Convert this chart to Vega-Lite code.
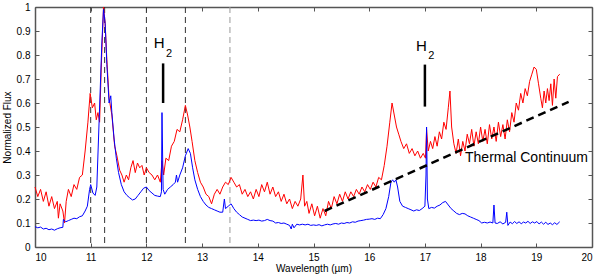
{
  "$schema": "https://vega.github.io/schema/vega-lite/v6.json",
  "width": 557,
  "height": 240,
  "autosize": {"type": "none"},
  "padding": {"left": 35, "top": 7, "right": 8, "bottom": 29},
  "background": "white",
  "config": {
    "view": {"stroke": null},
    "font": "Liberation Sans",
    "axis": {
      "domainColor": "#555",
      "domainWidth": 1.5,
      "tickColor": "#555",
      "tickSize": -4,
      "tickWidth": 1,
      "grid": false,
      "labelFont": "Liberation Sans",
      "labelFontSize": 10,
      "labelColor": "#000",
      "titleFont": "Liberation Sans",
      "titleFontSize": 10,
      "titleFontWeight": "normal",
      "titleColor": "#000"
    }
  },
  "datasets": {
    "red": [
      {"wl":10.00,"flux":0.25},{"wl":10.05,"flux":0.21},{"wl":10.10,"flux":0.24},{"wl":10.15,"flux":0.19},{"wl":10.20,"flux":0.23},{"wl":10.25,"flux":0.17},{"wl":10.30,"flux":0.21},{"wl":10.35,"flux":0.16},{"wl":10.40,"flux":0.19},{"wl":10.42,"flux":0.12},{"wl":10.45,"flux":0.18},{"wl":10.50,"flux":0.15},{"wl":10.53,"flux":0.10},{"wl":10.56,"flux":0.19},{"wl":10.60,"flux":0.24},{"wl":10.65,"flux":0.21},{"wl":10.70,"flux":0.26},{"wl":10.75,"flux":0.24},{"wl":10.80,"flux":0.29},{"wl":10.85,"flux":0.30},{"wl":10.90,"flux":0.40},{"wl":10.95,"flux":0.52},{"wl":10.99,"flux":0.64},{"wl":11.03,"flux":0.58},{"wl":11.07,"flux":0.60},{"wl":11.10,"flux":0.53},{"wl":11.13,"flux":0.56},{"wl":11.16,"flux":0.52},{"wl":11.19,"flux":0.75},{"wl":11.23,"flux":1.0},{"wl":11.26,"flux":0.93},{"wl":11.29,"flux":0.78},{"wl":11.33,"flux":0.62},{"wl":11.38,"flux":0.55},{"wl":11.43,"flux":0.42},{"wl":11.47,"flux":0.38},{"wl":11.52,"flux":0.32},{"wl":11.56,"flux":0.30},{"wl":11.60,"flux":0.27},{"wl":11.64,"flux":0.30},{"wl":11.68,"flux":0.28},{"wl":11.72,"flux":0.33},{"wl":11.76,"flux":0.36},{"wl":11.80,"flux":0.31},{"wl":11.84,"flux":0.35},{"wl":11.88,"flux":0.33},{"wl":11.92,"flux":0.34},{"wl":11.96,"flux":0.30},{"wl":12.00,"flux":0.33},{"wl":12.05,"flux":0.31},{"wl":12.10,"flux":0.30},{"wl":12.15,"flux":0.28},{"wl":12.20,"flux":0.30},{"wl":12.25,"flux":0.27},{"wl":12.28,"flux":0.36},{"wl":12.31,"flux":0.30},{"wl":12.35,"flux":0.37},{"wl":12.40,"flux":0.36},{"wl":12.45,"flux":0.42},{"wl":12.50,"flux":0.44},{"wl":12.55,"flux":0.49},{"wl":12.60,"flux":0.48},{"wl":12.65,"flux":0.53},{"wl":12.70,"flux":0.59},{"wl":12.74,"flux":0.55},{"wl":12.78,"flux":0.50},{"wl":12.82,"flux":0.44},{"wl":12.87,"flux":0.36},{"wl":12.92,"flux":0.31},{"wl":12.97,"flux":0.27},{"wl":13.02,"flux":0.25},{"wl":13.07,"flux":0.22},{"wl":13.12,"flux":0.21},{"wl":13.17,"flux":0.18},{"wl":13.22,"flux":0.22},{"wl":13.27,"flux":0.24},{"wl":13.32,"flux":0.22},{"wl":13.37,"flux":0.25},{"wl":13.42,"flux":0.27},{"wl":13.47,"flux":0.26},{"wl":13.52,"flux":0.29},{"wl":13.57,"flux":0.27},{"wl":13.62,"flux":0.25},{"wl":13.67,"flux":0.26},{"wl":13.72,"flux":0.22},{"wl":13.77,"flux":0.24},{"wl":13.82,"flux":0.21},{"wl":13.87,"flux":0.23},{"wl":13.92,"flux":0.20},{"wl":13.97,"flux":0.24},{"wl":14.02,"flux":0.21},{"wl":14.07,"flux":0.26},{"wl":14.12,"flux":0.23},{"wl":14.17,"flux":0.27},{"wl":14.22,"flux":0.22},{"wl":14.27,"flux":0.25},{"wl":14.32,"flux":0.21},{"wl":14.37,"flux":0.23},{"wl":14.42,"flux":0.19},{"wl":14.47,"flux":0.22},{"wl":14.52,"flux":0.18},{"wl":14.57,"flux":0.20},{"wl":14.62,"flux":0.16},{"wl":14.67,"flux":0.19},{"wl":14.72,"flux":0.17},{"wl":14.77,"flux":0.20},{"wl":14.81,"flux":0.30},{"wl":14.84,"flux":0.17},{"wl":14.88,"flux":0.19},{"wl":14.92,"flux":0.14},{"wl":14.97,"flux":0.18},{"wl":15.02,"flux":0.13},{"wl":15.07,"flux":0.17},{"wl":15.12,"flux":0.12},{"wl":15.17,"flux":0.16},{"wl":15.22,"flux":0.13},{"wl":15.27,"flux":0.19},{"wl":15.32,"flux":0.16},{"wl":15.37,"flux":0.21},{"wl":15.42,"flux":0.18},{"wl":15.47,"flux":0.22},{"wl":15.52,"flux":0.19},{"wl":15.57,"flux":0.23},{"wl":15.62,"flux":0.20},{"wl":15.67,"flux":0.23},{"wl":15.72,"flux":0.21},{"wl":15.77,"flux":0.24},{"wl":15.82,"flux":0.22},{"wl":15.87,"flux":0.25},{"wl":15.92,"flux":0.23},{"wl":15.97,"flux":0.26},{"wl":16.02,"flux":0.24},{"wl":16.07,"flux":0.27},{"wl":16.12,"flux":0.25},{"wl":16.17,"flux":0.29},{"wl":16.22,"flux":0.28},{"wl":16.27,"flux":0.34},{"wl":16.32,"flux":0.42},{"wl":16.37,"flux":0.52},{"wl":16.41,"flux":0.60},{"wl":16.45,"flux":0.55},{"wl":16.49,"flux":0.50},{"wl":16.53,"flux":0.47},{"wl":16.57,"flux":0.44},{"wl":16.62,"flux":0.41},{"wl":16.67,"flux":0.43},{"wl":16.72,"flux":0.39},{"wl":16.77,"flux":0.41},{"wl":16.82,"flux":0.38},{"wl":16.87,"flux":0.40},{"wl":16.92,"flux":0.37},{"wl":16.97,"flux":0.39},{"wl":17.01,"flux":0.37},{"wl":17.03,"flux":0.49},{"wl":17.06,"flux":0.40},{"wl":17.10,"flux":0.44},{"wl":17.14,"flux":0.41},{"wl":17.18,"flux":0.46},{"wl":17.22,"flux":0.42},{"wl":17.26,"flux":0.48},{"wl":17.30,"flux":0.45},{"wl":17.34,"flux":0.52},{"wl":17.38,"flux":0.49},{"wl":17.42,"flux":0.58},{"wl":17.45,"flux":0.65},{"wl":17.48,"flux":0.50},{"wl":17.52,"flux":0.43},{"wl":17.56,"flux":0.39},{"wl":17.60,"flux":0.45},{"wl":17.64,"flux":0.38},{"wl":17.68,"flux":0.44},{"wl":17.72,"flux":0.40},{"wl":17.76,"flux":0.47},{"wl":17.80,"flux":0.43},{"wl":17.84,"flux":0.49},{"wl":17.88,"flux":0.42},{"wl":17.92,"flux":0.48},{"wl":17.96,"flux":0.43},{"wl":18.00,"flux":0.50},{"wl":18.04,"flux":0.44},{"wl":18.08,"flux":0.49},{"wl":18.12,"flux":0.43},{"wl":18.16,"flux":0.51},{"wl":18.20,"flux":0.45},{"wl":18.24,"flux":0.50},{"wl":18.28,"flux":0.44},{"wl":18.32,"flux":0.52},{"wl":18.36,"flux":0.46},{"wl":18.40,"flux":0.51},{"wl":18.44,"flux":0.45},{"wl":18.48,"flux":0.53},{"wl":18.52,"flux":0.48},{"wl":18.56,"flux":0.56},{"wl":18.60,"flux":0.52},{"wl":18.64,"flux":0.60},{"wl":18.68,"flux":0.57},{"wl":18.72,"flux":0.64},{"wl":18.76,"flux":0.60},{"wl":18.80,"flux":0.66},{"wl":18.84,"flux":0.63},{"wl":18.88,"flux":0.69},{"wl":18.92,"flux":0.72},{"wl":18.96,"flux":0.75},{"wl":19.00,"flux":0.74},{"wl":19.04,"flux":0.68},{"wl":19.08,"flux":0.62},{"wl":19.11,"flux":0.58},{"wl":19.14,"flux":0.65},{"wl":19.17,"flux":0.60},{"wl":19.20,"flux":0.66},{"wl":19.23,"flux":0.61},{"wl":19.26,"flux":0.68},{"wl":19.29,"flux":0.59},{"wl":19.32,"flux":0.70},{"wl":19.35,"flux":0.62},{"wl":19.38,"flux":0.71},{"wl":19.42,"flux":0.72}
    ],
    "blue": [
      {"wl":10.00,"flux":0.085},{"wl":10.05,"flux":0.080},{"wl":10.10,"flux":0.083},{"wl":10.15,"flux":0.075},{"wl":10.20,"flux":0.078},{"wl":10.25,"flux":0.072},{"wl":10.30,"flux":0.075},{"wl":10.35,"flux":0.070},{"wl":10.40,"flux":0.076},{"wl":10.45,"flux":0.080},{"wl":10.50,"flux":0.082},{"wl":10.51,"flux":0.115},{"wl":10.55,"flux":0.105},{"wl":10.60,"flux":0.110},{"wl":10.65,"flux":0.115},{"wl":10.70,"flux":0.120},{"wl":10.75,"flux":0.118},{"wl":10.80,"flux":0.126},{"wl":10.85,"flux":0.130},{"wl":10.90,"flux":0.150},{"wl":10.94,"flux":0.170},{"wl":10.98,"flux":0.240},{"wl":11.00,"flux":0.260},{"wl":11.04,"flux":0.225},{"wl":11.08,"flux":0.215},{"wl":11.11,"flux":0.250},{"wl":11.14,"flux":0.450},{"wl":11.17,"flux":0.650},{"wl":11.20,"flux":0.850},{"wl":11.23,"flux":0.990},{"wl":11.26,"flux":0.930},{"wl":11.29,"flux":0.760},{"wl":11.33,"flux":0.600},{"wl":11.36,"flux":0.630},{"wl":11.38,"flux":0.560},{"wl":11.42,"flux":0.450},{"wl":11.46,"flux":0.370},{"wl":11.50,"flux":0.310},{"wl":11.55,"flux":0.260},{"wl":11.60,"flux":0.230},{"wl":11.65,"flux":0.215},{"wl":11.70,"flux":0.205},{"wl":11.75,"flux":0.196},{"wl":11.80,"flux":0.200},{"wl":11.85,"flux":0.215},{"wl":11.90,"flux":0.230},{"wl":11.95,"flux":0.245},{"wl":12.00,"flux":0.250},{"wl":12.05,"flux":0.235},{"wl":12.10,"flux":0.225},{"wl":12.15,"flux":0.215},{"wl":12.20,"flux":0.212},{"wl":12.25,"flux":0.210},{"wl":12.27,"flux":0.230},{"wl":12.28,"flux":0.560},{"wl":12.30,"flux":0.240},{"wl":12.33,"flux":0.220},{"wl":12.38,"flux":0.240},{"wl":12.43,"flux":0.250},{"wl":12.48,"flux":0.260},{"wl":12.52,"flux":0.270},{"wl":12.54,"flux":0.300},{"wl":12.56,"flux":0.270},{"wl":12.60,"flux":0.300},{"wl":12.65,"flux":0.330},{"wl":12.70,"flux":0.380},{"wl":12.75,"flux":0.410},{"wl":12.79,"flux":0.390},{"wl":12.83,"flux":0.330},{"wl":12.87,"flux":0.280},{"wl":12.92,"flux":0.240},{"wl":12.97,"flux":0.210},{"wl":13.02,"flux":0.190},{"wl":13.07,"flux":0.175},{"wl":13.12,"flux":0.165},{"wl":13.17,"flux":0.160},{"wl":13.22,"flux":0.155},{"wl":13.27,"flux":0.150},{"wl":13.32,"flux":0.145},{"wl":13.37,"flux":0.145},{"wl":13.40,"flux":0.200},{"wl":13.42,"flux":0.160},{"wl":13.47,"flux":0.170},{"wl":13.52,"flux":0.180},{"wl":13.57,"flux":0.160},{"wl":13.62,"flux":0.145},{"wl":13.67,"flux":0.135},{"wl":13.72,"flux":0.125},{"wl":13.77,"flux":0.120},{"wl":13.82,"flux":0.115},{"wl":13.87,"flux":0.110},{"wl":13.92,"flux":0.112},{"wl":13.97,"flux":0.110},{"wl":14.02,"flux":0.112},{"wl":14.07,"flux":0.108},{"wl":14.12,"flux":0.110},{"wl":14.17,"flux":0.115},{"wl":14.22,"flux":0.110},{"wl":14.27,"flux":0.108},{"wl":14.32,"flux":0.100},{"wl":14.37,"flux":0.102},{"wl":14.42,"flux":0.098},{"wl":14.47,"flux":0.100},{"wl":14.52,"flux":0.095},{"wl":14.57,"flux":0.090},{"wl":14.60,"flux":0.075},{"wl":14.62,"flux":0.095},{"wl":14.65,"flux":0.080},{"wl":14.70,"flux":0.095},{"wl":14.75,"flux":0.092},{"wl":14.80,"flux":0.095},{"wl":14.85,"flux":0.092},{"wl":14.90,"flux":0.095},{"wl":14.95,"flux":0.090},{"wl":15.00,"flux":0.092},{"wl":15.05,"flux":0.090},{"wl":15.10,"flux":0.093},{"wl":15.15,"flux":0.088},{"wl":15.20,"flux":0.092},{"wl":15.25,"flux":0.095},{"wl":15.30,"flux":0.092},{"wl":15.35,"flux":0.096},{"wl":15.40,"flux":0.098},{"wl":15.45,"flux":0.095},{"wl":15.50,"flux":0.100},{"wl":15.55,"flux":0.098},{"wl":15.60,"flux":0.102},{"wl":15.65,"flux":0.100},{"wl":15.70,"flux":0.105},{"wl":15.75,"flux":0.103},{"wl":15.80,"flux":0.108},{"wl":15.85,"flux":0.110},{"wl":15.90,"flux":0.112},{"wl":15.95,"flux":0.115},{"wl":16.00,"flux":0.116},{"wl":16.05,"flux":0.118},{"wl":16.10,"flux":0.115},{"wl":16.15,"flux":0.120},{"wl":16.20,"flux":0.118},{"wl":16.25,"flux":0.135},{"wl":16.30,"flux":0.160},{"wl":16.35,"flux":0.210},{"wl":16.39,"flux":0.270},{"wl":16.42,"flux":0.280},{"wl":16.45,"flux":0.270},{"wl":16.48,"flux":0.280},{"wl":16.51,"flux":0.250},{"wl":16.55,"flux":0.190},{"wl":16.60,"flux":0.170},{"wl":16.65,"flux":0.165},{"wl":16.70,"flux":0.160},{"wl":16.75,"flux":0.155},{"wl":16.80,"flux":0.150},{"wl":16.85,"flux":0.155},{"wl":16.90,"flux":0.152},{"wl":16.95,"flux":0.160},{"wl":17.00,"flux":0.170},{"wl":17.02,"flux":0.300},{"wl":17.03,"flux":0.500},{"wl":17.045,"flux":0.200},{"wl":17.07,"flux":0.160},{"wl":17.12,"flux":0.165},{"wl":17.17,"flux":0.162},{"wl":17.22,"flux":0.170},{"wl":17.27,"flux":0.175},{"wl":17.32,"flux":0.185},{"wl":17.37,"flux":0.190},{"wl":17.42,"flux":0.175},{"wl":17.47,"flux":0.160},{"wl":17.52,"flux":0.150},{"wl":17.57,"flux":0.140},{"wl":17.62,"flux":0.135},{"wl":17.67,"flux":0.140},{"wl":17.72,"flux":0.138},{"wl":17.77,"flux":0.130},{"wl":17.82,"flux":0.125},{"wl":17.87,"flux":0.120},{"wl":17.92,"flux":0.115},{"wl":17.97,"flux":0.110},{"wl":18.02,"flux":0.100},{"wl":18.07,"flux":0.103},{"wl":18.12,"flux":0.100},{"wl":18.17,"flux":0.104},{"wl":18.22,"flux":0.100},{"wl":18.24,"flux":0.175},{"wl":18.26,"flux":0.100},{"wl":18.30,"flux":0.098},{"wl":18.35,"flux":0.105},{"wl":18.40,"flux":0.096},{"wl":18.45,"flux":0.103},{"wl":18.47,"flux":0.145},{"wl":18.49,"flux":0.090},{"wl":18.53,"flux":0.104},{"wl":18.57,"flux":0.097},{"wl":18.61,"flux":0.106},{"wl":18.65,"flux":0.098},{"wl":18.69,"flux":0.105},{"wl":18.73,"flux":0.097},{"wl":18.77,"flux":0.104},{"wl":18.81,"flux":0.100},{"wl":18.85,"flux":0.107},{"wl":18.89,"flux":0.098},{"wl":18.93,"flux":0.105},{"wl":18.97,"flux":0.100},{"wl":19.01,"flux":0.106},{"wl":19.05,"flux":0.096},{"wl":19.09,"flux":0.104},{"wl":19.13,"flux":0.095},{"wl":19.17,"flux":0.103},{"wl":19.21,"flux":0.094},{"wl":19.25,"flux":0.100},{"wl":19.29,"flux":0.093},{"wl":19.33,"flux":0.101},{"wl":19.37,"flux":0.094},{"wl":19.42,"flux":0.105}
    ]
  },
  "layer": [
    {
      "data": {"values": [{"wl": 11}, {"wl": 11.25}, {"wl": 12}, {"wl": 12.7}]},
      "mark": {"type": "rule", "color": "#333", "strokeDash": [6, 4], "strokeWidth": 1},
      "encoding": {
        "x": {"field": "wl", "type": "quantitative", "scale": {"domain": [10, 20], "nice": false}, "axis": null}
      }
    },
    {
      "data": {"values": [{"wl": 13.5}]},
      "mark": {"type": "rule", "color": "#999", "strokeDash": [6, 4], "strokeWidth": 1},
      "encoding": {
        "x": {"field": "wl", "type": "quantitative", "axis": null}
      }
    },
    {
      "data": {"name": "red"},
      "mark": {"type": "line", "color": "#ff0000", "strokeWidth": 1},
      "encoding": {
        "x": {"field": "wl", "type": "quantitative", "scale": {"domain": [10, 20], "nice": false},
          "axis": {"orient": "bottom", "values": [10,11,12,13,14,15,16,17,18,19,20], "title": "Wavelength (µm)", "labelPadding": 9, "titlePadding": 1}},
        "y": {"field": "flux", "type": "quantitative", "scale": {"domain": [0, 1], "nice": false},
          "axis": {"orient": "left", "values": [0,0.1,0.2,0.3,0.4,0.5,0.6,0.7,0.8,0.9,1], "format": "~g", "title": "Normalized Flux", "labelPadding": 9, "titlePadding": 4}}
      }
    },
    {
      "data": {"name": "blue"},
      "mark": {"type": "line", "color": "#0000ff", "strokeWidth": 1},
      "encoding": {
        "x": {"field": "wl", "type": "quantitative",
          "axis": {"orient": "top", "values": [10,11,12,13,14,15,16,17,18,19,20], "labels": false, "title": null}},
        "y": {"field": "flux", "type": "quantitative",
          "axis": {"orient": "right", "values": [0,0.1,0.2,0.3,0.4,0.5,0.6,0.7,0.8,0.9,1], "labels": false, "title": null}}
      }
    },
    {
      "data": {"values": [{"wl": 15.2, "flux": 0.15}, {"wl": 19.58, "flux": 0.605}]},
      "mark": {"type": "line", "color": "#000", "strokeWidth": 2.5, "strokeDash": [8, 5]},
      "encoding": {
        "x": {"field": "wl", "type": "quantitative", "axis": null},
        "y": {"field": "flux", "type": "quantitative", "axis": null}
      }
    },
    {
      "data": {"values": [{"wl": 12.3, "lo": 0.6, "hi": 0.765}, {"wl": 17.0, "lo": 0.585, "hi": 0.76}]},
      "mark": {"type": "rule", "color": "#000", "strokeWidth": 2.5},
      "encoding": {
        "x": {"field": "wl", "type": "quantitative", "axis": null},
        "y": {"field": "lo", "type": "quantitative", "axis": null},
        "y2": {"field": "hi"}
      }
    },
    {
      "data": {"values": [{"wl": 12.13, "flux": 0.828, "t": "H"}, {"wl": 16.84, "flux": 0.817, "t": "H"}]},
      "mark": {"type": "text", "align": "left", "baseline": "alphabetic", "fontSize": 15, "font": "Liberation Sans", "color": "#000"},
      "encoding": {
        "x": {"field": "wl", "type": "quantitative", "axis": null},
        "y": {"field": "flux", "type": "quantitative", "axis": null},
        "text": {"field": "t"}
      }
    },
    {
      "data": {"values": [{"wl": 12.35, "flux": 0.79, "t": "2"}, {"wl": 17.06, "flux": 0.783, "t": "2"}]},
      "mark": {"type": "text", "align": "left", "baseline": "alphabetic", "fontSize": 11, "font": "Liberation Sans", "color": "#000"},
      "encoding": {
        "x": {"field": "wl", "type": "quantitative", "axis": null},
        "y": {"field": "flux", "type": "quantitative", "axis": null},
        "text": {"field": "t"}
      }
    },
    {
      "data": {"values": [{"wl": 17.72, "flux": 0.37, "t": "Thermal Continuum"}]},
      "mark": {"type": "text", "align": "left", "baseline": "middle", "fontSize": 14, "font": "Liberation Sans", "color": "#000"},
      "encoding": {
        "x": {"field": "wl", "type": "quantitative", "axis": null},
        "y": {"field": "flux", "type": "quantitative", "axis": null},
        "text": {"field": "t"}
      }
    }
  ],
  "resolve": {"axis": {"x": "independent", "y": "independent"}}
}
